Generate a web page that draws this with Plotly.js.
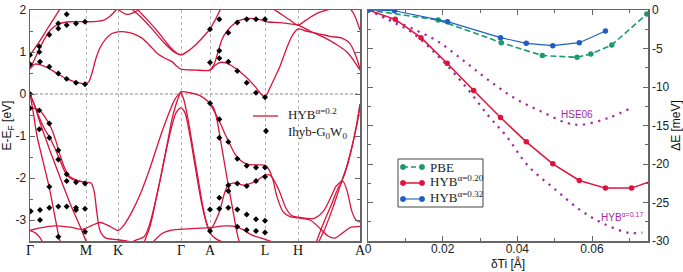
<!DOCTYPE html>
<html><head><meta charset="utf-8">
<script src="https://cdn.plot.ly/plotly-3.0.1.min.js"></script>
<style>html,body{margin:0;padding:0;background:#fff}#chart{width:683px;height:272px}</style>
</head><body><div id="chart"></div>
<script>
// ---------- Left panel: band structure (k-path distance, energy in eV) ----------
const kTickVals = [0, 56, 88, 151, 180, 235, 268, 330];
const kTickText = ['Γ', 'M', 'K', 'Γ', 'A', 'L', 'H', 'A'];
const eTickVals = [-3, -2, -1, 0, 1, 2];
const eTickText = ['-3', '-2', '-1', '0', '1', '2'];

// conduction bands [k, E]
const c1 = [[0,0.6],[5,0.71],[10,0.7],[18,0.62],[27,0.49],[36,0.37],[46,0.28],[56,0.24],[59,0.3],[62,0.5],[66,0.85],[70,1.1],[76,1.32],[82,1.44],[88,1.48],[95,1.48],[103,1.44],[112,1.33],[120,1.15],[128,0.95],[135,0.85],[142,0.77],[147,0.66],[151,0.59],[165,0.57],[180,0.57],[185,0.68],[190,0.75],[196,0.74],[205,0.62],[215,0.43],[225,0.18],[231,0.0],[235,-0.07],[240,0.15],[245,0.4],[250,0.66],[256,1.05],[262,1.38],[268,1.55],[276,1.5],[288,1.44],[300,1.37],[312,1.33],[320,1.2],[326,0.9],[330,0.6]];
const c2 = [[0,0.6],[6,0.9],[12,1.2],[18,1.45],[24,1.6],[30,1.68],[40,1.72],[56,1.72],[66,1.73],[74,1.76],[80,1.85],[86,2.0],[90,2.1]];
const c3 = [[0,0.93],[8,1.2],[16,1.5],[24,1.8],[32,2.1]];
const c4 = [[98,2.1],[110,1.85],[122,1.55],[134,1.22],[144,1.0],[151,0.93],[158,1.02],[166,1.18],[174,1.38],[180,1.55],[186,1.8],[192,2.1]];
const c5 = [[104,2.1],[116,1.8],[128,1.48],[140,1.12],[147,0.97],[151,0.93]];
const c6 = [[84,2.1],[90,1.98],[96,1.9],[102,1.92],[108,2.0],[112,2.1]];
const c7 = [[180,0.57],[184,0.7],[188,1.0],[192,1.3],[197,1.5],[203,1.65],[210,1.76],[220,1.8],[230,1.77],[237,1.72],[250,1.7],[260,1.67],[268,1.64],[280,1.5],[293,1.36],[305,1.2],[317,1.0],[330,0.57]];
const c8 = [[238,2.1],[250,1.92],[260,1.76],[268,1.64],[276,1.76],[288,1.93],[300,2.02],[312,2.1]];
const c9 = [[318,2.1],[324,1.9],[330,1.52]];
// valence bands [k, E]
const v1 = [[0,0],[5,-0.3],[10,-0.6],[15,-0.85],[20,-1.05],[25,-1.3],[30,-1.58],[36,-1.9],[42,-2.03],[50,-2.08],[56,-2.1],[61,-2.12],[64,-2.3],[67,-2.85],[70,-3.25],[75,-3.42],[88,-3.47],[100,-3.52],[106,-3.6]];
const v2 = [[0,-0.34],[5,-0.34],[10,-0.4],[15,-0.55],[20,-0.75],[25,-1.05],[30,-1.45],[35,-1.78],[40,-1.97],[48,-2.06],[56,-2.1]];
const v3 = [[0,0],[3,-0.4],[7,-1.0],[13,-1.6],[19,-2.2],[24,-2.8],[28,-3.3],[31,-3.6]];
const v4 = [[0,0],[5,-0.3],[10,-0.68],[20,-1.35],[30,-1.98],[40,-2.6],[50,-3.15],[56,-3.5],[58,-3.6]];
const f0 = [[0,-3.25],[5,-3.3],[10,-3.42],[14,-3.6]];
const f1 = [[0,-3.25],[10,-3.19],[25,-3.14],[40,-3.17],[53,-3.22],[62,-3.13],[70,-3.06],[78,-3.13],[85,-3.22],[88,-3.25],[94,-3.12],[102,-2.8],[110,-2.4],[118,-1.9],[125,-1.4],[132,-0.9],[139,-0.45],[145,-0.12],[151,0.05]];
const v5 = [[96,-3.6],[106,-3.48],[114,-3.4],[119,-3.15],[125,-2.6],[131,-1.95],[137,-1.25],[142,-0.75],[146,-0.45],[151,-0.33],[155,-0.45],[160,-1.0],[165,-1.7],[170,-2.4],[175,-2.95],[180,-3.3],[186,-3.45],[196,-3.55],[205,-3.6]];
const v6 = [[113,-3.6],[120,-3.15],[127,-2.4],[133,-1.7],[138,-1.1],[142,-0.6],[146,-0.25],[149,-0.05],[151,0.05],[160,0.03],[170,-0.04],[180,-0.22],[184,-0.35],[187,-0.62],[192,-1.3],[197,-2.0],[202,-2.65],[207,-3.3],[210,-3.6]];
const g1 = [[151,0.05],[154,-0.15],[158,-0.6],[163,-1.3],[168,-2.0],[173,-2.7],[177,-3.1],[180,-3.24],[185,-3.05],[190,-2.76],[194,-2.4],[198,-2.17],[203,-2.12],[208,-2.13],[213,-2.17],[218,-2.15],[227,-2.06],[235,-1.93],[240,-1.93],[245,-2.1],[250,-2.35],[256,-2.72],[262,-2.9],[268,-2.93],[276,-2.96],[284,-2.96],[293,-2.8],[300,-2.5],[306,-2.2],[312,-2.05],[318,-1.65],[324,-1.05],[328,-0.6],[330,-0.24]];
const v7 = [[180,-0.22],[185,-0.45],[190,-0.68],[195,-0.95],[200,-1.2],[205,-1.43],[210,-1.57],[217,-1.67],[225,-1.69],[235,-1.7],[239,-1.8],[243,-2.05],[247,-2.45],[253,-2.8],[260,-2.92],[268,-2.95],[280,-3.0],[290,-3.2],[298,-3.38],[305,-3.43],[313,-3.3],[320,-3.18],[330,-3.15]];
const v8 = [[285,-3.6],[294,-3.05],[302,-2.6],[308,-2.25],[313,-2.08],[317,-2.3],[322,-2.8],[326,-3.0],[330,-3.05]];
const v9 = [[287,-3.6],[295,-3.2],[303,-2.7],[310,-2.2],[317,-1.7],[322,-1.25],[326,-0.8],[330,-0.24]];
const f2 = [[120,-3.6],[126,-3.45],[132,-3.32],[140,-3.25],[151,-3.22],[165,-3.2],[180,-3.18],[195,-3.14],[205,-3.15],[213,-3.23],[222,-3.36],[232,-3.44],[240,-3.5],[248,-3.6]];

// Ihyb-G0W0 points
const gwK = [0,0,9.3,9.3,10,19.3,19.3,28.3,28.3,28.3,36.7,36.7,36.7,46,46,55,55,
  0,0,9.3,19.3,9.3,19.3,28.3,28.3,36.7,36.7,46,55,19.3,0.7,10,19.3,28.3,36.7,46,46,55,10,55,28.3,
  180,189.3,180,189.3,189.3,198.3,198.3,207.3,207.3,216.7,216.7,226,226,235,235,180,189.3,
  189.3,198.3,207.3,216.7,226,235,235,226,216.7,207.3,198.3,198.3,189.3,180,189.3,198.3,207.3,216.7,226,235,180,207.3,216.7,226,235];
const gwE = [0.93,0.71,1.13,1.0,0.77,1.41,0.65,1.68,1.56,0.49,1.9,1.64,0.36,1.68,0.27,1.72,0.23,
  0,-0.34,-0.39,-0.7,-0.84,-1.04,-1.34,-1.56,-1.91,-2.07,-2.1,-2.13,-2.21,-2.79,-2.76,-2.71,-2.68,-2.68,-2.71,-2.76,-2.73,-3.0,-3.28,-3.4,
  1.54,1.78,0.75,1.03,0.85,1.46,0.77,1.7,0.55,1.78,0.27,1.78,0.03,1.78,-0.08,-0.22,-0.6,
  -1.04,-1.14,-1.54,-1.71,-1.75,-1.75,-1.97,-2.07,-2.19,-2.13,-2.17,-2.31,-2.47,-2.75,-2.73,-2.71,-2.75,-2.87,-2.98,-3.02,-3.26,-3.16,-3.24,-3.26,-3.3];

// ---------- Right panel: energy vs Ti displacement ----------
const dTiPBE = [0, 0.0188, 0.0357, 0.0467, 0.056, 0.0597, 0.0653, 0.0747];
const ePBE = [0, -1.3, -4.24, -5.92, -6.14, -5.71, -4.54, -0.52];
const dTiH20 = [0, 0.0073, 0.0142, 0.0212, 0.0283, 0.0355, 0.0424, 0.0495, 0.0566, 0.0636, 0.0706, 0.0777];
const eH20 = [0, -1.21, -3.59, -6.92, -10.46, -13.97, -17.12, -19.97, -22.14, -23.13, -23.13, -21.9];
const dTiH32 = [0, 0.0071, 0.0213, 0.0355, 0.0424, 0.0495, 0.0566, 0.0636];
const eH32 = [0, -0.09, -1.51, -3.59, -4.33, -4.63, -4.24, -2.72];
const dTiHSE = [0, 0.0055, 0.0117, 0.0188, 0.0259, 0.0322, 0.0393, 0.0464, 0.0535, 0.0571, 0.0642, 0.0704];
const eHSE = [0, -1.08, -2.38, -4.11, -6.7, -9.08, -11.46, -13.19, -14.7, -14.9, -14.05, -12.75];
const dTiH17 = [0, 0.0055, 0.0117, 0.0188, 0.0259, 0.0322, 0.037, 0.0428, 0.05, 0.0571, 0.0633, 0.07, 0.0735];
const eH17 = [0, -1.3, -2.9, -6.0, -9.8, -13.7, -16.34, -20.2, -23.25, -26.06, -27.8, -28.96, -28.9];
const dTiTickVals = [0, 0.02, 0.04, 0.06];
const dTiTickText = ['0', '0.02', '0.04', '0.06'];
const dETickVals = [-30, -25, -20, -15, -10, -5, 0];
const dETickText = ['-30', '-25', '-20', '-15', '-10', '-5', '0'];
const leftLegendNames = ['HYB<sup>α=0.2</sup>', 'Ihyb-G<sub>0</sub>W<sub>0</sub>'];
const rightLegendNames = ['PBE', 'HYB<sup>α=0.20</sup>', 'HYB<sup>α=0.32</sup>'];

// ---------- build ----------
const bandColor = '#d8143c';
const purple = '#a3289e';
const green = '#1b9a6e', red = '#e0123c', blue = '#1f5ec4';
const bands = [c1,c2,c3,c4,c5,c6,c7,c8,c9,v1,v2,v3,v4,f0,f1,v5,v6,g1,v7,v8,v9,f2];
const traces = bands.map(b => ({
  x: b.map(p => p[0]), y: b.map(p => p[1]),
  type: 'scatter', mode: 'lines', xaxis: 'x', yaxis: 'y',
  line: {color: bandColor, width: 1.3, shape: 'spline', smoothing: 0.8},
  showlegend: false, hoverinfo: 'skip'
}));
traces.push({
  x: gwK, y: gwE, type: 'scatter', mode: 'markers', xaxis: 'x', yaxis: 'y',
  marker: {symbol: 'diamond', size: 4.6, color: '#000'}, showlegend: false
});
traces.push({
  x: dTiHSE, y: eHSE, type: 'scatter', mode: 'lines', xaxis: 'x2', yaxis: 'y2',
  line: {color: purple, width: 2.2, dash: '2.2px,5.5px', shape: 'spline'}, showlegend: false
});
traces.push({
  x: dTiH17, y: eH17, type: 'scatter', mode: 'lines', xaxis: 'x2', yaxis: 'y2',
  line: {color: purple, width: 2.2, dash: '2.2px,5.5px', shape: 'spline'}, showlegend: false
});
traces.push({
  x: dTiPBE, y: ePBE, type: 'scatter', mode: 'lines+markers', xaxis: 'x2', yaxis: 'y2',
  line: {color: green, width: 1.6, dash: '6px,3px'}, marker: {color: green, size: 5.5}, showlegend: false
});
traces.push({
  x: dTiH20, y: eH20, type: 'scatter', mode: 'lines+markers', xaxis: 'x2', yaxis: 'y2',
  line: {color: red, width: 1.5}, marker: {color: red, size: 5.5}, showlegend: false
});
traces.push({
  x: dTiH32, y: eH32, type: 'scatter', mode: 'lines+markers', xaxis: 'x2', yaxis: 'y2',
  line: {color: blue, width: 1.1}, marker: {color: blue, size: 5.5}, showlegend: false
});

const W = 683, H = 272, L = 30, R = 35, T = 10, B = 31;
const pw = W - L - R, ph = H - T - B;
const px = v => (v - L) / pw;
const py = v => 1 - (v - T) / ph;
const frame = '#666';
const sans = 'Liberation Sans, Arial, sans-serif';
const serif = 'Liberation Serif, Times New Roman, serif';
const tickFont = {family: sans, size: 12, color: '#222'};

// legend keys (decoration, in page pixels)
const shapes = [
  {type: 'line', xref: 'x domain', yref: 'y', x0: 0, x1: 1, y0: 0, y1: 0, line: {color: '#8a8a8a', width: 1, dash: '3px,2px'}, layer: 'below'},
  {type: 'line', xref: 'paper', yref: 'paper', x0: px(253), x1: px(278), y0: py(116), y1: py(116), line: {color: bandColor, width: 1.3}},
  {type: 'path', xref: 'paper', yref: 'paper', xsizemode: 'pixel', ysizemode: 'pixel', xanchor: px(266), yanchor: py(131),
   path: 'M0,3 L2.6,0 L0,-3 L-2.6,0 Z', fillcolor: '#000', line: {color: '#000', width: 0.5}},
  {type: 'rect', xref: 'paper', yref: 'paper', x0: px(398), x1: px(483), y0: py(207), y1: py(159), line: {color: '#444', width: 1}, fillcolor: '#fff', layer: 'above'}
];
const annotations = [
  {x: 0.056, y: -13.6, xref: 'x2', yref: 'y2', text: 'HSE06', showarrow: false, font: {family: sans, size: 10, color: purple}},
  {x: 0.068, y: -26.9, xref: 'x2', yref: 'y2', text: 'HYB<sup>α=0.17</sup>', showarrow: false, font: {family: sans, size: 10, color: purple}},
  {x: px(286), y: py(114), xref: 'paper', yref: 'paper', xanchor: 'left', yanchor: 'middle', text: leftLegendNames[0], showarrow: false, font: {family: serif, size: 13, color: '#222'}},
  {x: px(286), y: py(132), xref: 'paper', yref: 'paper', xanchor: 'left', yanchor: 'middle', text: leftLegendNames[1], showarrow: false, font: {family: serif, size: 13, color: '#222'}}
];
const rowY = [167, 183, 199];
const rowStyle = [{c: green, d: '5px,3px', w: 1.6}, {c: red, d: 'solid', w: 1.5}, {c: blue, d: 'solid', w: 1.1}];
rowY.forEach((yy, i) => {
  const s = rowStyle[i];
  shapes.push({type: 'line', xref: 'paper', yref: 'paper', x0: px(403), x1: px(422), y0: py(yy), y1: py(yy), line: {color: s.c, width: s.w, dash: s.d}, layer: 'above'});
  [403, 422].forEach(xx => shapes.push({type: 'circle', xref: 'paper', yref: 'paper', xsizemode: 'pixel', ysizemode: 'pixel',
    xanchor: px(xx), yanchor: py(yy), x0: -2.7, x1: 2.7, y0: -2.7, y1: 2.7, fillcolor: s.c, line: {color: s.c, width: 0.5}, layer: 'above'}));
  annotations.push({x: px(428), y: py(yy - (i ? 2 : 0)), xref: 'paper', yref: 'paper', xanchor: 'left', yanchor: 'middle',
    text: rightLegendNames[i], showarrow: false, font: {family: serif, size: 13, color: '#222'}});
});

const layout = {
  width: W, height: H,
  margin: {l: L, r: R, t: T, b: B, pad: 0},
  paper_bgcolor: '#fff', plot_bgcolor: '#fff',
  showlegend: false,
  xaxis: {
    domain: [0, px(360)], range: [0, 330], tickmode: 'array', tickvals: kTickVals, ticktext: kTickText,
    tickfont: {family: serif, size: 14, color: '#111'}, ticklabelstandoff: -4,
    showgrid: true, gridcolor: '#b5b5b5', griddash: 'dot', gridwidth: 1,
    showline: true, mirror: true, linecolor: frame, linewidth: 1.5, ticks: '', zeroline: false, fixedrange: true
  },
  yaxis: {
    domain: [0, 1], range: [-3.5, 2], tickmode: 'array', tickvals: eTickVals, ticktext: eTickText,
    tickfont: tickFont, ticks: 'inside', ticklen: 5, tickcolor: frame,
    minor: {dtick: 0.5, tick0: 0, ticks: 'inside', ticklen: 3, tickcolor: frame, showgrid: false},
    showgrid: false, zeroline: false, showline: true, mirror: 'ticks', linecolor: frame, linewidth: 1.5,
    title: {text: 'E-E<sub>F</sub> [eV]', font: {family: sans, size: 12, color: '#111'}, standoff: 3},
    anchor: 'x', fixedrange: true
  },
  xaxis2: {
    domain: [px(368), 1], range: [0, 0.075], tickmode: 'array', tickvals: dTiTickVals, ticktext: dTiTickText,
    tickfont: tickFont, ticks: 'inside', ticklen: 5, tickcolor: frame, ticklabelstandoff: -4,
    minor: {dtick: 0.01, tick0: 0, ticks: 'inside', ticklen: 3, tickcolor: frame, showgrid: false},
    showgrid: false, zeroline: false, showline: true, mirror: 'ticks', linecolor: frame, linewidth: 1.5,
    title: {text: 'δTi [Å]', font: {family: sans, size: 12, color: '#111'}, standoff: 4},
    anchor: 'y2', fixedrange: true
  },
  yaxis2: {
    domain: [0, 1], range: [-30, 0], tickmode: 'array', tickvals: dETickVals, ticktext: dETickText,
    tickfont: tickFont, ticks: 'inside', ticklen: 5, tickcolor: frame, side: 'right',
    minor: {dtick: 2.5, tick0: 0, ticks: 'inside', ticklen: 3, tickcolor: frame, showgrid: false},
    showgrid: false, zeroline: false, showline: true, mirror: 'ticks', linecolor: frame, linewidth: 1.5,
    title: {text: 'ΔE [meV]', font: {family: sans, size: 12, color: '#111'}, standoff: 2},
    anchor: 'x2', fixedrange: true
  },
  shapes: shapes,
  annotations: annotations
};

Plotly.newPlot('chart', traces, layout, {displayModeBar: false, staticPlot: true});
</script></body></html>
